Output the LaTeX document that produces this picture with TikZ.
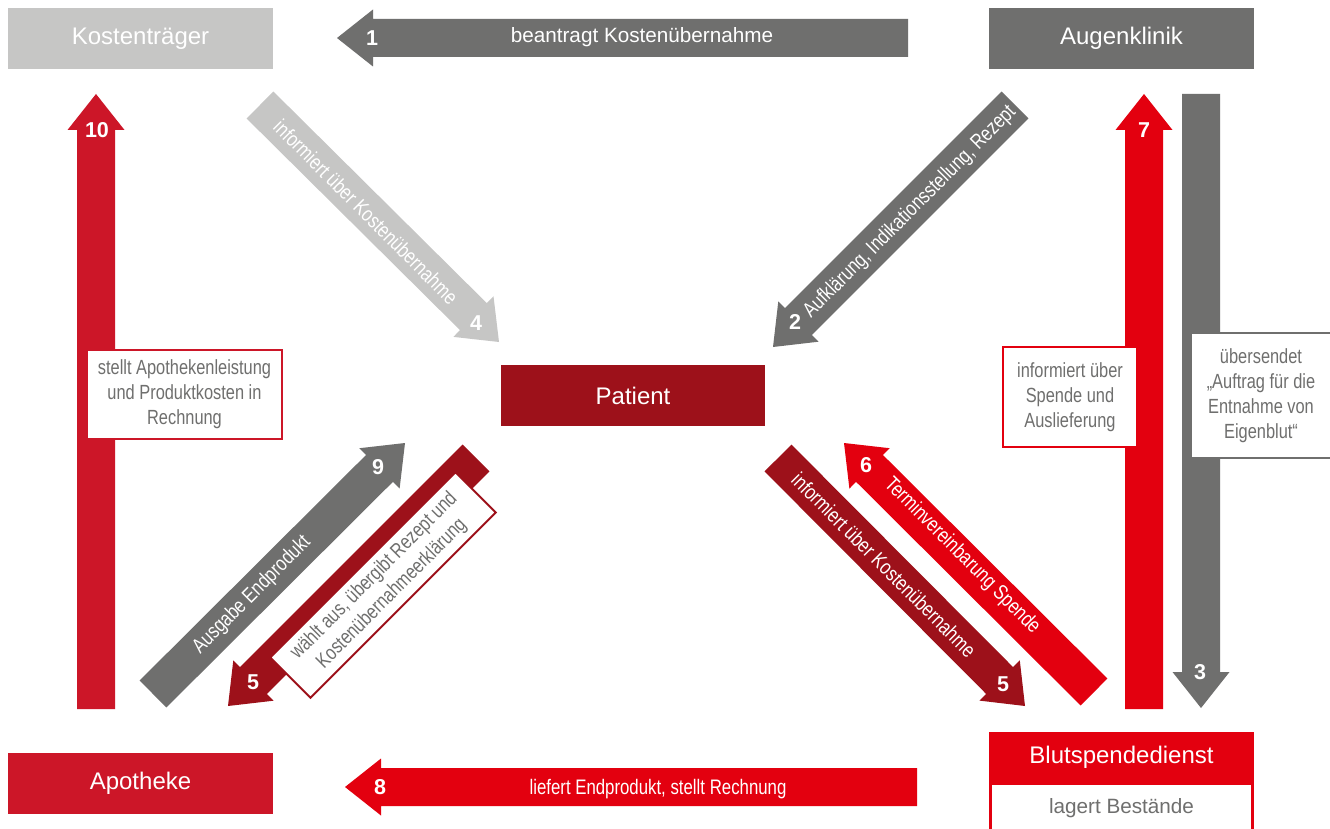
\documentclass[tikz,border=0pt]{standalone}
\usepackage{fontspec}
\setmainfont{Liberation Sans}
\newfontfamily\condfont[FakeStretch=0.8]{Liberation Sans}
\usetikzlibrary{calc}

\definecolor{lightgrey}{HTML}{C6C6C5}
\definecolor{darkgrey}{HTML}{6F6F6E}
\definecolor{crimson}{HTML}{CC1628}
\definecolor{brightred}{HTML}{E3000F}
\definecolor{darkred}{HTML}{9D111A}

% block arrow from tail (#2) to tip (#3), filled with #1
\newcommand\blockarrow[3]{%
  \coordinate (hb) at ($(#3)!36pt!(#2)$);
  \fill[#1] ($(#2)!19pt!90:(#3)$) -- ($(hb)!19pt!90:(#3)$) -- ($(hb)!28.5pt!90:(#3)$)
    -- (#3) -- ($(hb)!28.5pt!-90:(#3)$) -- ($(hb)!19pt!-90:(#3)$) -- ($(#2)!19pt!-90:(#3)$) -- cycle;
}

\tikzset{
  party/.style={minimum width=265pt, minimum height=61pt, inner sep=0pt, text=white,
    font=\fontsize{24}{28}\selectfont},
  stepnum/.style={text=white, inner sep=0pt, font=\bfseries\fontsize{21.5}{24}\selectfont},
  arrowtext/.style={text=white, inner sep=0pt, font=\condfont\fontsize{21}{25}\selectfont},
  notebox/.style={fill=white, draw, line width=2pt, align=center, inner sep=0pt,
    text=darkgrey, font=\condfont\fontsize{20.5}{25}\selectfont},
}

\begin{document}
\begin{tikzpicture}[x=1pt,y=-1pt]
\useasboundingbox[fill=white] (0,0) rectangle (1330,829);

% parties
\node[party, fill=lightgrey] (kt) at (140.5,38.5) {Kostenträger};
\node[party, fill=darkgrey] (ak) at (1121.5,38.5) {Augenklinik};
\node[party, fill=darkred, minimum width=264pt] (pat) at (633,395.5) {Patient};
\node[party, fill=crimson] (apo) at (140.5,783.5) {Apotheke};
\node[party, fill=brightred, minimum height=51pt] (bsd) at (1121.5,757.5) {Blutspendedienst};
\draw[brightred, line width=3pt] (990.5,783) rectangle (1252.5,845);
\node[text=darkgrey, font=\fontsize{20.7}{24}\selectfont] (lager) at (1121.5,808) {lagert Bestände};

% arrow end points
\coordinate (a1s) at (908,38);   \coordinate (a1e) at (337,38);
\coordinate (a2s) at (1015,105); \coordinate (a2e) at (773,347);
\coordinate (a3s) at (1201,94);  \coordinate (a3e) at (1201,708);
\coordinate (a4s) at (260,105);  \coordinate (a4e) at (499,342);
\coordinate (a5ls) at (476,458); \coordinate (a5le) at (228,706);
\coordinate (a5rs) at (778,458); \coordinate (a5re) at (1025,706);
\coordinate (a6s) at (1094,692); \coordinate (a6e) at (844,443);
\coordinate (a7s) at (1144,709); \coordinate (a7e) at (1144,94);
\coordinate (a8s) at (917,787);  \coordinate (a8e) at (345,787);
\coordinate (a9s) at (153,694);  \coordinate (a9e) at (405,443);
\coordinate (a10s) at (96,709);  \coordinate (a10e) at (96,94);

% arrows
\blockarrow{darkgrey}{a1s}{a1e}
\blockarrow{darkgrey}{a2s}{a2e}
\blockarrow{darkgrey}{a3s}{a3e}
\blockarrow{lightgrey}{a4s}{a4e}
\blockarrow{darkred}{a5ls}{a5le}
\blockarrow{darkred}{a5rs}{a5re}
\blockarrow{brightred}{a6s}{a6e}
\blockarrow{brightred}{a7s}{a7e}
\blockarrow{brightred}{a8s}{a8e}
\blockarrow{darkgrey}{a9s}{a9e}
\blockarrow{crimson}{a10s}{a10e}

% step numbers
\node[stepnum] (n1) at (372,38) {1};
\node[stepnum] (n2) at (795,322) {2};
\node[stepnum] (n3) at (1200,672) {3};
\node[stepnum] (n4) at (476,323) {4};
\node[stepnum] (n5l) at (253,682) {5};
\node[stepnum] (n5r) at (1003,684) {5};
\node[stepnum] (n6) at (866,465) {6};
\node[stepnum] (n7) at (1144,130) {7};
\node[stepnum] (n8) at (380,787) {8};
\node[stepnum] (n9) at (378,467) {9};
\node[stepnum] (n10) at (97,130) {10};

% arrow captions
\node[text=white, font=\fontsize{20.7}{24}\selectfont] (t1) at (642,37) {beantragt Kostenübernahme};
\node[arrowtext] (t8) at (658,789) {liefert Endprodukt, stellt Rechnung};
\node[arrowtext, rotate=-45] (t4) at (366,212) {informiert über Kostenübernahme};
\node[arrowtext, rotate=45] (t2) at (910,212) {Aufklärung, Indikationsstellung, Rezept};
\node[arrowtext, rotate=45] (t9) at (252,595) {Ausgabe Endprodukt};
\node[arrowtext, rotate=-45] (t5r) at (884,565) {informiert über Kostenübernahme};
\node[arrowtext, rotate=-45] (t6) at (962,556) {Terminvereinbarung Spende};

% notes on the arrows
\node[notebox, draw=crimson, minimum width=195pt, minimum height=89pt] (nb10) at (184.5,394.5)
  {stellt Apothekenleistung\\und Produktkosten in\\Rechnung};
\node[notebox, draw=brightred, minimum width=134pt, minimum height=100pt] (nb7) at (1070,397)
  {informiert über\\Spende und\\Auslieferung};
\node[notebox, draw=darkgrey, minimum width=140pt, minimum height=125pt] (nb3) at (1261,395.5)
  {übersendet\\„Auftrag für die\\Entnahme von\\Eigenblut“};
\node[notebox, draw=darkred, rotate=45, minimum width=262pt, minimum height=57pt] (nb5) at (383,585)
  {wählt aus, übergibt Rezept und\\Kostenübernahmeerklärung};
\end{tikzpicture}
\end{document}
